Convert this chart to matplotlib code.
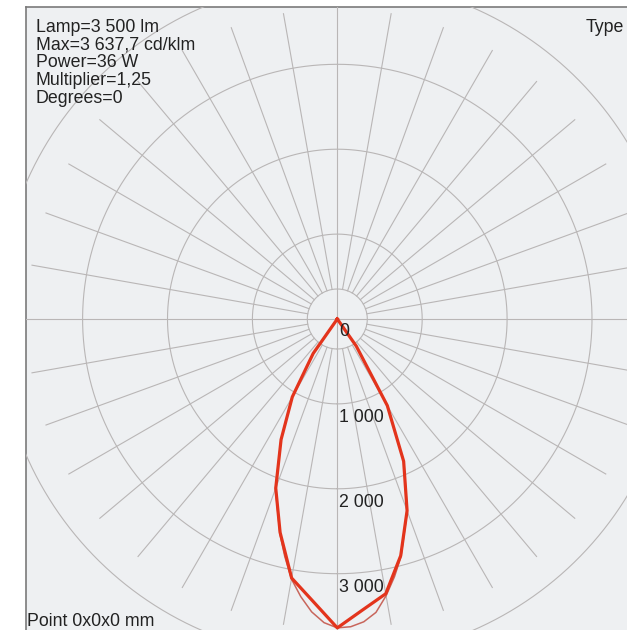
import numpy as np
import matplotlib
matplotlib.use("Agg")
import matplotlib.pyplot as plt

# ---------------- data (cd/klm) ----------------
gamma = [0, 5, 10, 15, 20, 25, 30, 35, 40, 45, 50, 55, 60, 65, 70, 75, 80, 85, 90]
# thick curve (C0 / C180 plane)
c0_right = [3638, 3439, 3286, 2886, 2403, 1849, 1178, 389, 0, 0, 0, 0, 0, 0, 0, 0, 0, 0, 0]
c0_left = [3638, 3333, 3098, 2603, 2120, 1567, 1060, 495, 0, 0, 0, 0, 0, 0, 0, 0, 0, 0, 0]
# thin curve (C90 / C270 plane)
gamma_thin = [0, 2.5, 5, 7.5, 10, 12.5, 15, 20, 25, 30, 35, 40, 50, 60, 70, 80, 90]
c90_right = [3638, 3628, 3580, 3486, 3310, 3110, 2898, 2410, 1855, 1178, 389, 0, 0, 0, 0, 0, 0]
c90_left = [3638, 3580, 3463, 3298, 3110, 2862, 2615, 2130, 1570, 1060, 495, 0, 0, 0, 0, 0, 0]

ring_values = [1000, 2000, 3000, 4000]
ring_labels = ["0", "1 000", "2 000", "3 000"]
ring_label_pos = [0, 1000, 2000, 3000]
info_lines = ["Lamp=3 500 lm", "Max=3 637,7 cd/klm", "Power=36 W",
              "Multiplier=1,25", "Degrees=0"]
type_text = "Type"
point_text = "Point 0x0x0 mm"

# ---------------- style ----------------
W, H = 627, 630
BG = "#eef0f2"
GRID = "#b9b6b6"
RED = "#e3341c"
RED_THIN = "#c8665c"
FONT = "Liberation Sans"
FS = 12.8

fig = plt.figure(figsize=(W / 100, H / 100), dpi=100, facecolor="white")

fx0 = 26 / W
fy1 = 1 - 7 / H
frame = fig.add_axes([fx0, -0.02, 1.05 - fx0, fy1 + 0.02])
frame.set_facecolor(BG)
frame.set_xticks([])
frame.set_yticks([])
for s in ["right", "bottom"]:
    frame.spines[s].set_visible(False)
for s in ["left", "top"]:
    frame.spines[s].set_color("#7a7a7a")
    frame.spines[s].set_linewidth(1.2)
frame.set_zorder(0)

cx, cy = 337.3, H - 319.0
scale = 0.0849  # px per cd/klm
Rpx = 470
RMAX = Rpx / scale
ax = fig.add_axes([(cx - Rpx) / W, (cy - Rpx) / H, 2 * Rpx / W, 2 * Rpx / H],
                  projection="polar")
ax.set_zorder(1)
ax.set_theta_zero_location("S")
ax.set_theta_direction(1)
ax.set_rlim(0, RMAX)
ax.axis("off")

INNER = 30 / scale
OUTER = 310 / scale

# rings
th = np.linspace(0, 2 * np.pi, 1441)
lines = []
for r in [INNER] + ring_values:
    lines += ax.plot(th, np.full_like(th, r), color=GRID, lw=0.8)
# radial lines
for d in range(0, 360, 10):
    t = np.deg2rad(d)
    if d % 90 == 0:
        lines += ax.plot([t, t], [0, RMAX], color=GRID, lw=0.8)
    else:
        lines += ax.plot([t, t], [INNER, OUTER], color=GRID, lw=0.8)


def full_curve(g, left, right):
    g = np.array(g, dtype=float)
    theta = np.concatenate([-np.deg2rad(g[::-1]), np.deg2rad(g[1:])])
    vals = np.concatenate([np.array(left, float)[::-1], np.array(right, float)[1:]])
    return theta, vals


t90, v90 = full_curve(gamma_thin, c90_left, c90_right)
lines += ax.plot(t90, v90, color=RED_THIN, lw=1.1, solid_joinstyle="round")
t0, v0 = full_curve(gamma, c0_left, c0_right)
lines += ax.plot(t0, v0, color=RED, lw=2.3, solid_joinstyle="round")

for ln in lines:
    ln.set_clip_path(frame.patch)

for lab, pos in zip(ring_labels, ring_label_pos):
    off = -17 if pos == 0 else -18.5
    ax.annotate(lab, xy=(0, pos), xytext=(2, off), textcoords="offset pixels",
                ha="left", va="baseline", fontsize=FS, family=FONT, color="#222222",
                annotation_clip=False)

# info text
base = 32
for i, s in enumerate(info_lines):
    fig.text(35.5 / W, 1 - (base + 17.7 * i) / H, s, ha="left", va="baseline",
             fontsize=FS, family=FONT, color="#222222")
fig.text(586 / W, 1 - 32 / H, type_text, ha="left", va="baseline",
         fontsize=FS, family=FONT, color="#222222")
fig.text(27.3 / W, 1 - 626 / H, point_text, ha="left", va="baseline",
         fontsize=FS, family=FONT, color="#222222")

fig.savefig("out.png", dpi=100, facecolor="white")
